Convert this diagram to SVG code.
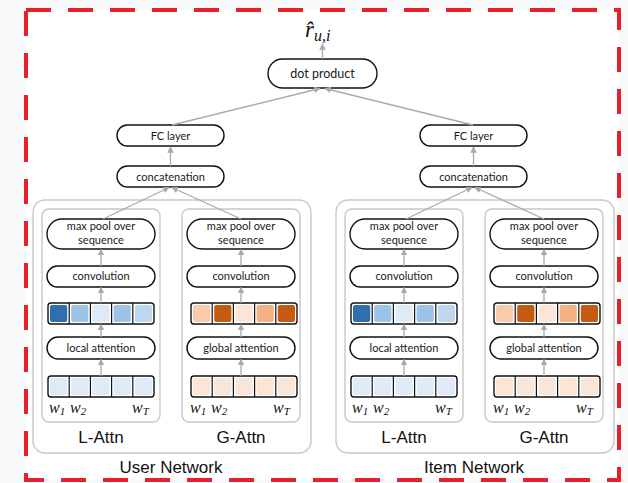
<svg xmlns="http://www.w3.org/2000/svg" width="628" height="483" viewBox="0 0 628 483">
<defs>
<style>
.node{fill:#fff;stroke:#111;stroke-width:1.4}
.frame{fill:none;stroke:#111;stroke-width:1.4}
.box{fill:#fff;stroke:#c8c8c8;stroke-width:1.4}
.t{font-family:Lato,"Liberation Sans",sans-serif;font-size:11px;fill:#1a1a1a;text-anchor:middle}
.t2{font-family:Lato,"Liberation Sans",sans-serif;font-size:12.5px;fill:#1a1a1a;text-anchor:middle}
.lab{font-family:"Liberation Sans",Arial,sans-serif;font-size:17px;fill:#111;text-anchor:middle}
.w{font-family:"Liberation Serif","DejaVu Serif",serif;font-style:italic;font-size:16px;fill:#111}
.conn line{stroke:#aaa;stroke-width:1.3;marker-end:url(#ah)}
</style>
<marker id="ah" viewBox="0 0 10 10" refX="9" refY="5" markerWidth="5" markerHeight="5" orient="auto">
<path d="M0,0 L10,5 L0,10 z" fill="#aaa"/>
</marker>
<g id="cellFrame">
<rect x="0" y="0" width="106" height="21" rx="3" class="frame"/>
<line x1="21.2" y1="0" x2="21.2" y2="21" stroke="#111" stroke-width="1.2"/>
<line x1="42.4" y1="0" x2="42.4" y2="21" stroke="#111" stroke-width="1.2"/>
<line x1="63.6" y1="0" x2="63.6" y2="21" stroke="#111" stroke-width="1.2"/>
<line x1="84.8" y1="0" x2="84.8" y2="21" stroke="#111" stroke-width="1.2"/>
</g>
</defs>
<rect width="628" height="483" fill="#f8f9fb"/>
<rect x="26" y="10" width="593" height="470" fill="#fff"/>
<rect x="26" y="10" width="593" height="470" fill="none" stroke="#e8202a" stroke-width="4" stroke-dasharray="25 17"/>

<g id="output">
<text x="305" y="37" font-family="'Liberation Serif',serif" font-style="italic" font-size="23" fill="#111">r̂<tspan font-size="16" dy="4">u,i</tspan></text>
</g>

<g id="dot-product"><rect x="268" y="59" width="109" height="29" rx="14.5" class="node"/><text x="322.5" y="78" class="t2">dot product</text></g>

<g id="user-fc"><rect x="117" y="125" width="107" height="21" rx="10.5" class="node"/><text x="170.5" y="139.5" class="t">FC layer</text></g>
<g id="user-concat"><rect x="117" y="166" width="107" height="21" rx="10.5" class="node"/><text x="170.5" y="180.5" class="t">concatenation</text></g>
<g id="item-fc"><rect x="420" y="125" width="107" height="21" rx="10.5" class="node"/><text x="473.5" y="139.5" class="t">FC layer</text></g>
<g id="item-concat"><rect x="420" y="166" width="107" height="21" rx="10.5" class="node"/><text x="473.5" y="180.5" class="t">concatenation</text></g>

<g id="user-network">
<rect x="33" y="200" width="278" height="253" rx="12" class="box"/>
<text x="171" y="473" class="lab">User Network</text>
</g>
<g id="item-network">
<rect x="336" y="200" width="278" height="253" rx="12" class="box"/>
<text x="474" y="473" class="lab">Item Network</text>
</g>

<!-- User L-Attn -->
<g id="user-lattn">
<rect x="42" y="209" width="118" height="213" rx="7" class="box"/>
<text x="101" y="443" class="lab">L-Attn</text>
</g>
<g id="user-l-pool"><rect x="47" y="219" width="108" height="30" rx="15" class="node"/><text x="101" y="230" class="t" font-size="10.5">max pool over</text><text x="101" y="244" class="t" font-size="10.5">sequence</text></g>
<g id="user-l-conv"><rect x="47" y="266" width="108" height="21" rx="10.5" class="node"/><text x="101" y="280" class="t" font-size="10.5">convolution</text></g>
<g id="user-l-weights" transform="translate(48,303)">
<rect x="2" y="2" width="17.2" height="17" rx="2" fill="#2e6fb0"/>
<rect x="23.2" y="2" width="17.2" height="17" rx="2" fill="#9dc3e6"/>
<rect x="44.4" y="2" width="17.2" height="17" rx="2" fill="#deebf7"/>
<rect x="65.6" y="2" width="17.2" height="17" rx="2" fill="#9dc3e6"/>
<rect x="86.8" y="2" width="17.2" height="17" rx="2" fill="#bdd7ee"/>
<use href="#cellFrame"/>
</g>
<g id="user-l-attn"><rect x="47" y="337" width="108" height="22" rx="11" class="node"/><text x="101" y="351.5" class="t" font-size="10.5">local attention</text></g>
<g id="user-l-words" transform="translate(48,376)">
<rect x="2" y="2" width="17.2" height="17" rx="2" fill="#deebf7"/>
<rect x="23.2" y="2" width="17.2" height="17" rx="2" fill="#deebf7"/>
<rect x="44.4" y="2" width="17.2" height="17" rx="2" fill="#deebf7"/>
<rect x="65.6" y="2" width="17.2" height="17" rx="2" fill="#deebf7"/>
<rect x="86.8" y="2" width="17.2" height="17" rx="2" fill="#deebf7"/>
<use href="#cellFrame"/>
<text x="1" y="37" class="w">w<tspan font-size="11" dy="2">1</tspan></text>
<text x="22" y="37" class="w">w<tspan font-size="11" dy="2">2</tspan></text>
<text x="84" y="37" class="w">w<tspan font-size="11" dy="2">T</tspan></text>
</g>

<!-- User G-Attn -->
<g id="user-gattn">
<rect x="182" y="209" width="118" height="213" rx="7" class="box"/>
<text x="241" y="443" class="lab">G-Attn</text>
</g>
<g id="user-g-pool"><rect x="187" y="219" width="108" height="30" rx="15" class="node"/><text x="241" y="230" class="t" font-size="10.5">max pool over</text><text x="241" y="244" class="t" font-size="10.5">sequence</text></g>
<g id="user-g-conv"><rect x="187" y="266" width="108" height="21" rx="10.5" class="node"/><text x="241" y="280" class="t" font-size="10.5">convolution</text></g>
<g id="user-g-weights" transform="translate(191,303)">
<rect x="2" y="2" width="17.2" height="17" rx="2" fill="#f8cbad"/>
<rect x="23.2" y="2" width="17.2" height="17" rx="2" fill="#c55a11"/>
<rect x="44.4" y="2" width="17.2" height="17" rx="2" fill="#fbe5d6"/>
<rect x="65.6" y="2" width="17.2" height="17" rx="2" fill="#f4b183"/>
<rect x="86.8" y="2" width="17.2" height="17" rx="2" fill="#c55a11"/>
<use href="#cellFrame"/>
</g>
<g id="user-g-attn"><rect x="187" y="337" width="108" height="22" rx="11" class="node"/><text x="241" y="351.5" class="t" font-size="10.5">global attention</text></g>
<g id="user-g-words" transform="translate(191,376)">
<rect x="2" y="2" width="17.2" height="17" rx="2" fill="#fbe5d6"/>
<rect x="23.2" y="2" width="17.2" height="17" rx="2" fill="#fbe5d6"/>
<rect x="44.4" y="2" width="17.2" height="17" rx="2" fill="#fbe5d6"/>
<rect x="65.6" y="2" width="17.2" height="17" rx="2" fill="#fbe5d6"/>
<rect x="86.8" y="2" width="17.2" height="17" rx="2" fill="#fbe5d6"/>
<use href="#cellFrame"/>
<text x="-1" y="37" class="w">w<tspan font-size="11" dy="2">1</tspan></text>
<text x="20" y="37" class="w">w<tspan font-size="11" dy="2">2</tspan></text>
<text x="82" y="37" class="w">w<tspan font-size="11" dy="2">T</tspan></text>
</g>

<!-- Item L-Attn -->
<g id="item-lattn">
<rect x="345" y="209" width="118" height="213" rx="7" class="box"/>
<text x="404" y="443" class="lab">L-Attn</text>
</g>
<g id="item-l-pool"><rect x="350" y="219" width="108" height="30" rx="15" class="node"/><text x="404" y="230" class="t" font-size="10.5">max pool over</text><text x="404" y="244" class="t" font-size="10.5">sequence</text></g>
<g id="item-l-conv"><rect x="350" y="266" width="108" height="21" rx="10.5" class="node"/><text x="404" y="280" class="t" font-size="10.5">convolution</text></g>
<g id="item-l-weights" transform="translate(351,303)">
<rect x="2" y="2" width="17.2" height="17" rx="2" fill="#2e6fb0"/>
<rect x="23.2" y="2" width="17.2" height="17" rx="2" fill="#9dc3e6"/>
<rect x="44.4" y="2" width="17.2" height="17" rx="2" fill="#deebf7"/>
<rect x="65.6" y="2" width="17.2" height="17" rx="2" fill="#9dc3e6"/>
<rect x="86.8" y="2" width="17.2" height="17" rx="2" fill="#bdd7ee"/>
<use href="#cellFrame"/>
</g>
<g id="item-l-attn"><rect x="350" y="337" width="108" height="22" rx="11" class="node"/><text x="404" y="351.5" class="t" font-size="10.5">local attention</text></g>
<g id="item-l-words" transform="translate(351,376)">
<rect x="2" y="2" width="17.2" height="17" rx="2" fill="#deebf7"/>
<rect x="23.2" y="2" width="17.2" height="17" rx="2" fill="#deebf7"/>
<rect x="44.4" y="2" width="17.2" height="17" rx="2" fill="#deebf7"/>
<rect x="65.6" y="2" width="17.2" height="17" rx="2" fill="#deebf7"/>
<rect x="86.8" y="2" width="17.2" height="17" rx="2" fill="#deebf7"/>
<use href="#cellFrame"/>
<text x="1" y="37" class="w">w<tspan font-size="11" dy="2">1</tspan></text>
<text x="22" y="37" class="w">w<tspan font-size="11" dy="2">2</tspan></text>
<text x="84" y="37" class="w">w<tspan font-size="11" dy="2">T</tspan></text>
</g>

<!-- Item G-Attn -->
<g id="item-gattn">
<rect x="485" y="209" width="118" height="213" rx="7" class="box"/>
<text x="544" y="443" class="lab">G-Attn</text>
</g>
<g id="item-g-pool"><rect x="490" y="219" width="108" height="30" rx="15" class="node"/><text x="544" y="230" class="t" font-size="10.5">max pool over</text><text x="544" y="244" class="t" font-size="10.5">sequence</text></g>
<g id="item-g-conv"><rect x="490" y="266" width="108" height="21" rx="10.5" class="node"/><text x="544" y="280" class="t" font-size="10.5">convolution</text></g>
<g id="item-g-weights" transform="translate(494,303)">
<rect x="2" y="2" width="17.2" height="17" rx="2" fill="#f8cbad"/>
<rect x="23.2" y="2" width="17.2" height="17" rx="2" fill="#c55a11"/>
<rect x="44.4" y="2" width="17.2" height="17" rx="2" fill="#fbe5d6"/>
<rect x="65.6" y="2" width="17.2" height="17" rx="2" fill="#f4b183"/>
<rect x="86.8" y="2" width="17.2" height="17" rx="2" fill="#c55a11"/>
<use href="#cellFrame"/>
</g>
<g id="item-g-attn"><rect x="490" y="337" width="108" height="22" rx="11" class="node"/><text x="544" y="351.5" class="t" font-size="10.5">global attention</text></g>
<g id="item-g-words" transform="translate(494,376)">
<rect x="2" y="2" width="17.2" height="17" rx="2" fill="#fbe5d6"/>
<rect x="23.2" y="2" width="17.2" height="17" rx="2" fill="#fbe5d6"/>
<rect x="44.4" y="2" width="17.2" height="17" rx="2" fill="#fbe5d6"/>
<rect x="65.6" y="2" width="17.2" height="17" rx="2" fill="#fbe5d6"/>
<rect x="86.8" y="2" width="17.2" height="17" rx="2" fill="#fbe5d6"/>
<use href="#cellFrame"/>
<text x="-1" y="37" class="w">w<tspan font-size="11" dy="2">1</tspan></text>
<text x="20" y="37" class="w">w<tspan font-size="11" dy="2">2</tspan></text>
<text x="82" y="37" class="w">w<tspan font-size="11" dy="2">T</tspan></text>
</g>

<g id="connectors" class="conn">
<line x1="322.5" y1="59" x2="322.5" y2="44"/>
<line x1="172" y1="125" x2="320" y2="88.5"/>
<line x1="473" y1="125" x2="325" y2="88.5"/>
<line x1="170.5" y1="166" x2="170.5" y2="147"/>
<line x1="473.5" y1="166" x2="473.5" y2="147"/>
<line x1="103" y1="219" x2="169" y2="187.5"/>
<line x1="241" y1="219" x2="172" y2="187.5"/>
<line x1="406" y1="219" x2="472" y2="187.5"/>
<line x1="544" y1="219" x2="475" y2="187.5"/>
<line x1="101" y1="266" x2="101" y2="249.5"/>
<line x1="101" y1="303" x2="101" y2="287.5"/>
<line x1="101" y1="337" x2="101" y2="324.5"/>
<line x1="101" y1="376" x2="101" y2="359.5"/>
<line x1="241" y1="266" x2="241" y2="249.5"/>
<line x1="241" y1="303" x2="241" y2="287.5"/>
<line x1="241" y1="337" x2="241" y2="324.5"/>
<line x1="241" y1="376" x2="241" y2="359.5"/>
<line x1="404" y1="266" x2="404" y2="249.5"/>
<line x1="404" y1="303" x2="404" y2="287.5"/>
<line x1="404" y1="337" x2="404" y2="324.5"/>
<line x1="404" y1="376" x2="404" y2="359.5"/>
<line x1="544" y1="266" x2="544" y2="249.5"/>
<line x1="544" y1="303" x2="544" y2="287.5"/>
<line x1="544" y1="337" x2="544" y2="324.5"/>
<line x1="544" y1="376" x2="544" y2="359.5"/>
</g>
</svg>
